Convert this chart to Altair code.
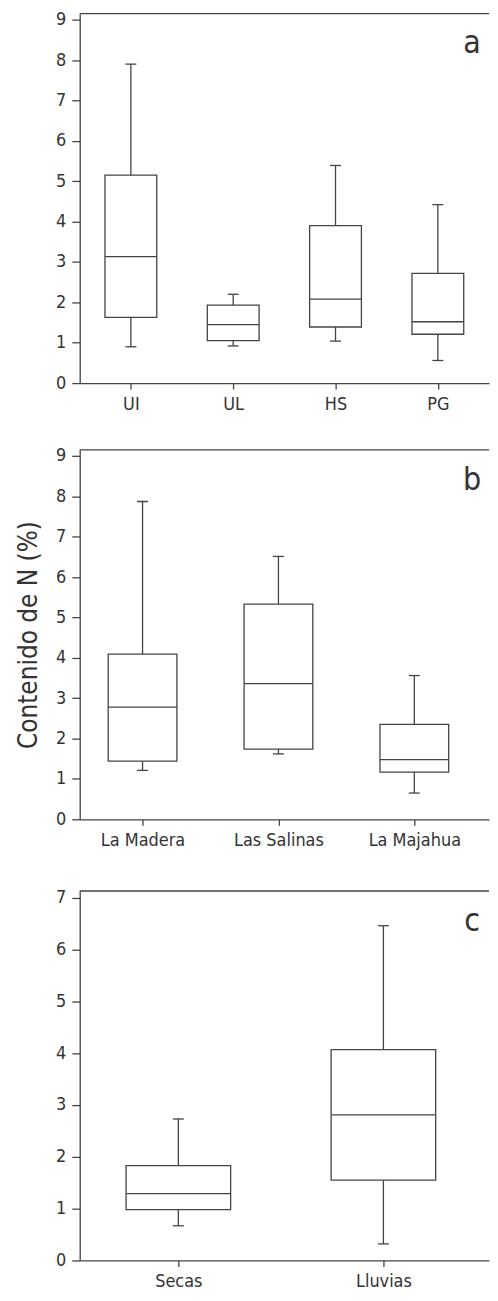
import altair as alt
import pandas as pd

# Panel a
cat_a = ["UI", "UL", "HS", "PG"]
min_a = [0.90, 0.92, 1.04, 0.56]
q1_a = [1.63, 1.05, 1.39, 1.21]
med_a = [3.13, 1.45, 2.08, 1.52]
q3_a = [5.15, 1.93, 3.90, 2.72]
max_a = [7.90, 2.20, 5.39, 4.42]

# Panel b
cat_b = ["La Madera", "Las Salinas", "La Majahua"]
min_b = [1.21, 1.62, 0.65]
q1_b = [1.44, 1.74, 1.17]
med_b = [2.78, 3.36, 1.48]
q3_b = [4.09, 5.33, 2.35]
max_b = [7.87, 6.51, 3.56]

# Panel c
cat_c = ["Secas", "Lluvias"]
min_c = [0.67, 0.32]
q1_c = [0.98, 1.55]
med_c = [1.29, 2.81]
q3_c = [1.83, 4.07]
max_c = [2.73, 6.46]

y_title = "Contenido de N (%)"

FONT = "Liberation Sans Narrow, DejaVu Sans Condensed, Arial Narrow, sans-serif"
LINE = "#444444"
TEXT = "#333333"
W = 411
H = 371


def panel(cats, mn, q1, med, q3, mx, letter, ymax, yticks, box_w, pad, align, title, spacer_y=None):
    df = pd.DataFrame({"cat": cats, "min": mn, "q1": q1, "med": med, "q3": q3, "max": mx})
    xs = alt.X("cat:N", sort=cats, title=None,
               scale=alt.Scale(type="point", padding=pad, align=align),
               axis=alt.Axis(labelAngle=0, tickSize=6, labelPadding=6))
    yscale = alt.Scale(domain=[0, ymax], nice=False)
    if title:
        yaxis = alt.Axis(values=yticks, tickSize=8, labelPadding=6, grid=False,
                         title=title, titleFontSize=26, titleFontWeight="normal",
                         titleColor=TEXT, titleFont=FONT, titlePadding=14)
    else:
        yaxis = alt.Axis(values=yticks, tickSize=8, labelPadding=6, grid=False, title=None)
    base = alt.Chart(df)
    whisk = base.mark_rule(color=LINE, strokeWidth=1.3).encode(
        x=xs, y=alt.Y("min:Q", scale=yscale, axis=yaxis), y2="max:Q")
    box = base.mark_bar(size=box_w, fill="white", stroke=LINE, strokeWidth=1.3).encode(
        x=xs, y=alt.Y("q1:Q", scale=yscale), y2="q3:Q")
    medt = base.mark_tick(size=box_w, thickness=1.3, color=LINE, opacity=1).encode(
        x=xs, y=alt.Y("med:Q", scale=yscale))
    capmin = base.mark_tick(size=11, thickness=1.3, color=LINE, opacity=1).encode(
        x=xs, y=alt.Y("min:Q", scale=yscale))
    capmax = base.mark_tick(size=11, thickness=1.3, color=LINE, opacity=1).encode(
        x=xs, y=alt.Y("max:Q", scale=yscale))
    frame = alt.Chart(pd.DataFrame({"t": [0]})).mark_rule(color=LINE, strokeWidth=1.3).encode(
        x=alt.value(0), x2=alt.value(W), y=alt.value(0))
    lab = alt.Chart(pd.DataFrame({"t": [letter]})).mark_text(
        font=FONT, fontSize=32, color=TEXT, align="center", baseline="alphabetic").encode(
        text="t:N", x=alt.value(394), y=alt.value(40))
    layers = [whisk, box, medt, capmin, capmax, frame, lab]
    if spacer_y is not None:
        spacer = alt.Chart(pd.DataFrame({"t": [0]})).mark_rule(strokeOpacity=0).encode(
            x=alt.value(0), x2=alt.value(1), y=alt.value(spacer_y))
        layers.append(spacer)
    return alt.layer(*layers).properties(width=W, height=H)


pa = panel(cat_a, min_a, q1_a, med_a, q3_a, max_a, "a", 9.15, list(range(10)), 52, 0.5, 0.5, None)
pb = panel(cat_b, min_b, q1_b, med_b, q3_b, max_b, "b", 9.15, list(range(10)), 69, 0.506, 0.457, y_title)
pc = panel(cat_c, min_c, q1_c, med_c, q3_c, max_c, "c", 7.13, list(range(8)), 105, 0.498, 0.483, None, spacer_y=-8)

chart = alt.vconcat(pa, pb, pc, spacing=34).properties(
    padding={"left": 7, "top": 0, "right": 0, "bottom": 0}
).configure_view(stroke=None).configure_axis(
    domainColor=LINE, tickColor=LINE, labelColor=TEXT, labelFont=FONT,
    labelFontSize=18, domainWidth=1.3, tickWidth=1.3
)

chart.save("out.html", embed_options={"renderer": "svg", "actions": False})
